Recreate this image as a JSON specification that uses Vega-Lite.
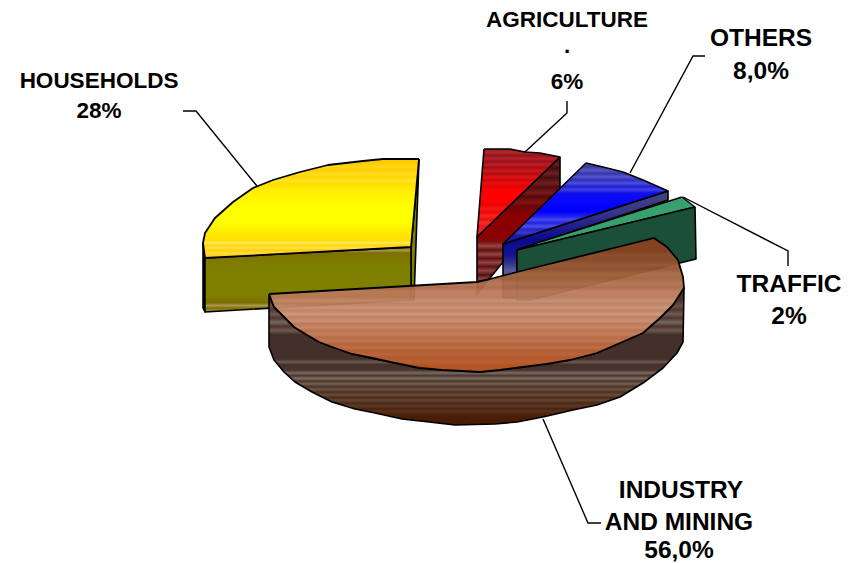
{
"$schema":"https://vega.github.io/schema/vega-lite/v6.json",
"width":856,"height":563,"padding":0,
"autosize":"none",
"background":"white",
"view":{"stroke":null},
"datasets":{
"outline":[
{"part":"yellowRight","i":0,"x":419,"y":159},{"part":"yellowRight","i":1,"x":411,"y":247},{"part":"yellowRight","i":2,"x":411,"y":300},{"part":"yellowRight","i":3,"x":414,"y":300},{"part":"yellowRight","i":4,"x":419,"y":159},
{"part":"yellowEnd","i":0,"x":203,"y":243},{"part":"yellowEnd","i":1,"x":205,"y":258},{"part":"yellowEnd","i":2,"x":205,"y":312},{"part":"yellowEnd","i":3,"x":203,"y":308},{"part":"yellowEnd","i":4,"x":203,"y":243},
{"part":"yellowFront","i":0,"x":205,"y":258},{"part":"yellowFront","i":1,"x":411,"y":247},{"part":"yellowFront","i":2,"x":411,"y":300},{"part":"yellowFront","i":3,"x":205,"y":312},{"part":"yellowFront","i":4,"x":205,"y":258},
{"part":"yellowTop","i":0,"x":419,"y":159},{"part":"yellowTop","i":1,"x":383,"y":159},{"part":"yellowTop","i":2,"x":363,"y":161},{"part":"yellowTop","i":3,"x":328,"y":165},{"part":"yellowTop","i":4,"x":300,"y":172},{"part":"yellowTop","i":5,"x":273,"y":180},{"part":"yellowTop","i":6,"x":253,"y":188},{"part":"yellowTop","i":7,"x":233,"y":202},{"part":"yellowTop","i":8,"x":215,"y":218},{"part":"yellowTop","i":9,"x":205,"y":233},{"part":"yellowTop","i":10,"x":203,"y":243},{"part":"yellowTop","i":11,"x":205,"y":258},{"part":"yellowTop","i":12,"x":411,"y":247},{"part":"yellowTop","i":13,"x":419,"y":159},
{"part":"redSide","i":0,"x":560,"y":157},{"part":"redSide","i":1,"x":560,"y":192},{"part":"redSide","i":2,"x":490,"y":278},{"part":"redSide","i":3,"x":477,"y":294},{"part":"redSide","i":4,"x":477,"y":237},{"part":"redSide","i":5,"x":560,"y":157},
{"part":"redTop","i":0,"x":484,"y":149},{"part":"redTop","i":1,"x":510,"y":149},{"part":"redTop","i":2,"x":525,"y":152},{"part":"redTop","i":3,"x":540,"y":153},{"part":"redTop","i":4,"x":560,"y":157},{"part":"redTop","i":5,"x":477,"y":237},{"part":"redTop","i":6,"x":484,"y":149},
{"part":"blueSide","i":0,"x":668,"y":191},{"part":"blueSide","i":1,"x":668,"y":200},{"part":"blueSide","i":2,"x":517,"y":250},{"part":"blueSide","i":3,"x":517,"y":298},{"part":"blueSide","i":4,"x":503,"y":298},{"part":"blueSide","i":5,"x":503,"y":244},{"part":"blueSide","i":6,"x":668,"y":191},
{"part":"blueTop","i":0,"x":586,"y":163},{"part":"blueTop","i":1,"x":603,"y":167},{"part":"blueTop","i":2,"x":623,"y":172},{"part":"blueTop","i":3,"x":643,"y":180},{"part":"blueTop","i":4,"x":668,"y":191},{"part":"blueTop","i":5,"x":503,"y":244},{"part":"blueTop","i":6,"x":586,"y":163},
{"part":"greenTop","i":0,"x":682,"y":197},{"part":"greenTop","i":1,"x":695,"y":207},{"part":"greenTop","i":2,"x":517,"y":250},{"part":"greenTop","i":3,"x":540,"y":242},{"part":"greenTop","i":4,"x":682,"y":197},
{"part":"greenSide","i":0,"x":695,"y":207},{"part":"greenSide","i":1,"x":696,"y":259},{"part":"greenSide","i":2,"x":530,"y":300},{"part":"greenSide","i":3,"x":517,"y":300},{"part":"greenSide","i":4,"x":517,"y":250},{"part":"greenSide","i":5,"x":695,"y":207},
{"part":"brownSide","i":0,"x":269,"y":294},{"part":"brownSide","i":1,"x":269,"y":347},{"part":"brownSide","i":2,"x":274,"y":360},{"part":"brownSide","i":3,"x":284,"y":372},{"part":"brownSide","i":4,"x":295,"y":382},{"part":"brownSide","i":5,"x":312,"y":392},{"part":"brownSide","i":6,"x":332,"y":402},{"part":"brownSide","i":7,"x":355,"y":409},{"part":"brownSide","i":8,"x":375,"y":413},{"part":"brownSide","i":9,"x":402,"y":419},{"part":"brownSide","i":10,"x":429,"y":422},{"part":"brownSide","i":11,"x":455,"y":425},{"part":"brownSide","i":12,"x":495,"y":424},{"part":"brownSide","i":13,"x":517,"y":422},{"part":"brownSide","i":14,"x":543,"y":417},{"part":"brownSide","i":15,"x":573,"y":410},{"part":"brownSide","i":16,"x":597,"y":405},{"part":"brownSide","i":17,"x":620,"y":397},{"part":"brownSide","i":18,"x":643,"y":383},{"part":"brownSide","i":19,"x":663,"y":368},{"part":"brownSide","i":20,"x":677,"y":353},{"part":"brownSide","i":21,"x":683,"y":342},{"part":"brownSide","i":22,"x":684,"y":288},{"part":"brownSide","i":24,"x":673,"y":305},{"part":"brownSide","i":25,"x":660,"y":318},{"part":"brownSide","i":26,"x":643,"y":333},{"part":"brownSide","i":27,"x":620,"y":343},{"part":"brownSide","i":28,"x":597,"y":353},{"part":"brownSide","i":29,"x":570,"y":360},{"part":"brownSide","i":30,"x":523,"y":367},{"part":"brownSide","i":31,"x":480,"y":372},{"part":"brownSide","i":32,"x":442,"y":370},{"part":"brownSide","i":33,"x":395,"y":363},{"part":"brownSide","i":34,"x":352,"y":354},{"part":"brownSide","i":35,"x":319,"y":342},{"part":"brownSide","i":36,"x":294,"y":327},{"part":"brownSide","i":37,"x":274,"y":307},{"part":"brownSide","i":38,"x":269,"y":294},
{"part":"brownTop","i":0,"x":269,"y":294},{"part":"brownTop","i":1,"x":477,"y":282},{"part":"brownTop","i":2,"x":490,"y":279},{"part":"brownTop","i":3,"x":517,"y":272},{"part":"brownTop","i":4,"x":654,"y":238},{"part":"brownTop","i":5,"x":667,"y":247},{"part":"brownTop","i":6,"x":678,"y":260},{"part":"brownTop","i":7,"x":683,"y":277},{"part":"brownTop","i":8,"x":684,"y":288},{"part":"brownTop","i":9,"x":673,"y":305},{"part":"brownTop","i":10,"x":660,"y":318},{"part":"brownTop","i":11,"x":643,"y":333},{"part":"brownTop","i":12,"x":620,"y":343},{"part":"brownTop","i":13,"x":597,"y":353},{"part":"brownTop","i":14,"x":570,"y":360},{"part":"brownTop","i":15,"x":547,"y":364},{"part":"brownTop","i":16,"x":523,"y":367},{"part":"brownTop","i":17,"x":500,"y":370},{"part":"brownTop","i":18,"x":480,"y":372},{"part":"brownTop","i":19,"x":462,"y":371},{"part":"brownTop","i":20,"x":442,"y":370},{"part":"brownTop","i":21,"x":419,"y":368},{"part":"brownTop","i":22,"x":395,"y":363},{"part":"brownTop","i":23,"x":372,"y":358},{"part":"brownTop","i":24,"x":352,"y":354},{"part":"brownTop","i":25,"x":332,"y":347},{"part":"brownTop","i":26,"x":319,"y":342},{"part":"brownTop","i":27,"x":307,"y":335},{"part":"brownTop","i":28,"x":294,"y":327},{"part":"brownTop","i":29,"x":282,"y":315},{"part":"brownTop","i":30,"x":274,"y":307},{"part":"brownTop","i":31,"x":269,"y":294}
],
"leaders":[
{"slice":"HOUSEHOLDS","i":0,"x":183,"y":111},{"slice":"HOUSEHOLDS","i":1,"x":196,"y":111},{"slice":"HOUSEHOLDS","i":2,"x":257,"y":186},
{"slice":"AGRICULTURE","i":0,"x":567,"y":101},{"slice":"AGRICULTURE","i":1,"x":567,"y":113},{"slice":"AGRICULTURE","i":2,"x":525,"y":152},
{"slice":"OTHERS","i":0,"x":705,"y":56},{"slice":"OTHERS","i":1,"x":693,"y":56},{"slice":"OTHERS","i":2,"x":630,"y":173},
{"slice":"TRAFFIC","i":0,"x":683,"y":197},{"slice":"TRAFFIC","i":1,"x":788,"y":251},{"slice":"TRAFFIC","i":2,"x":788,"y":266},
{"slice":"INDUSTRY AND MINING","i":0,"x":543,"y":419},{"slice":"INDUSTRY AND MINING","i":1,"x":588,"y":523},{"slice":"INDUSTRY AND MINING","i":2,"x":601,"y":523}
],
"labels":[
{"line":"HOUSEHOLDS","x":99,"y":81},{"line":"28%","x":99,"y":111},
{"line":"AGRICULTURE","x":567,"y":20},{"line":".","x":567,"y":46},{"line":"6%","x":567,"y":82},
{"line":"OTHERS","x":761,"y":39},{"line":"8,0%","x":761,"y":72},
{"line":"TRAFFIC","x":789,"y":285},{"line":"2%","x":789,"y":317},
{"line":"INDUSTRY","x":681,"y":491},{"line":"AND MINING","x":679,"y":523},{"line":"56,0%","x":679,"y":551}
]
},
"encoding":{
"x":{"field":"x","type":"quantitative","axis":null,"scale":{"domain":[0,856],"nice":false,"zero":false}},
"y":{"field":"y","type":"quantitative","axis":null,"scale":{"domain":[563,0],"nice":false,"zero":false}},
"order":{"field":"i","type":"quantitative"}
},
"layer":[
{"data":{"name":"outline"},"transform":[{"filter":"datum.part==='yellowRight'"}],
 "mark":{"type":"line","fill":"#808000","stroke":"black","strokeWidth":1.6,"strokeJoin":"round"}},
{"data":{"name":"outline"},"transform":[{"filter":"datum.part==='yellowEnd'"}],
 "mark":{"type":"line","fill":"#1a1a00","stroke":"black","strokeWidth":1.6,"strokeJoin":"round"}},
{"data":{"name":"outline"},"transform":[{"filter":"datum.part==='yellowFront'"}],
 "mark":{"type":"line","stroke":"black","strokeWidth":1.6,"strokeJoin":"round","fill":{"gradient":"linear","x1":0,"y1":0,"x2":0,"y2":1,"stops":[
  {"offset":0,"color":"#6b5c00"},{"offset":0.05,"color":"#a89a50"},{"offset":0.09,"color":"#7d7000"},{"offset":0.3,"color":"#808000"},{"offset":0.75,"color":"#808000"},{"offset":0.86,"color":"#7a6c00"},{"offset":0.9,"color":"#a89a50"},{"offset":0.94,"color":"#807000"},{"offset":1,"color":"#a89a50"}]}}},
{"data":{"name":"outline"},"transform":[{"filter":"datum.part==='yellowTop'"}],
 "mark":{"type":"line","stroke":"black","strokeWidth":1.8,"strokeJoin":"round","fill":{"gradient":"linear","x1":0,"y1":0,"x2":0,"y2":1,"stops":[
  {"offset":0,"color":"#ffc800"},{"offset":0.05,"color":"#ffcc00"},{"offset":0.08,"color":"#ffd818"},{"offset":0.11,"color":"#ffcc00"},{"offset":0.15,"color":"#ffdc20"},{"offset":0.18,"color":"#ffd400"},{"offset":0.22,"color":"#ffe428"},{"offset":0.25,"color":"#ffdc00"},{"offset":0.3,"color":"#ffea00"},{"offset":0.4,"color":"#fff800"},{"offset":0.5,"color":"#ffff00"},{"offset":0.64,"color":"#ffff00"},{"offset":0.72,"color":"#ffee00"},{"offset":0.78,"color":"#ffe400"},{"offset":0.82,"color":"#ffe000"},{"offset":0.85,"color":"#ffe860"},{"offset":0.87,"color":"#ffd600"},{"offset":0.9,"color":"#ffe050"},{"offset":0.92,"color":"#ffd000"},{"offset":0.95,"color":"#ffdc40"},{"offset":1,"color":"#ffc800"}]}}},
{"data":{"name":"outline"},"transform":[{"filter":"datum.part==='redSide'"}],
 "mark":{"type":"line","stroke":"black","strokeWidth":1.6,"strokeJoin":"round","fill":{"gradient":"linear","x1":0,"y1":0,"x2":0,"y2":1,"stops":[
  {"offset":0,"color":"#3f0a0a"},{"offset":0.05,"color":"#6a1e1e"},{"offset":0.08,"color":"#420c0c"},{"offset":0.12,"color":"#6d2020"},{"offset":0.15,"color":"#480e0e"},{"offset":0.19,"color":"#701e1e"},{"offset":0.22,"color":"#500c0c"},{"offset":0.26,"color":"#7a1a1a"},{"offset":0.29,"color":"#580808"},{"offset":0.33,"color":"#801414"},{"offset":0.36,"color":"#6a0505"},{"offset":0.42,"color":"#8a0000"},{"offset":0.58,"color":"#8a0000"},{"offset":0.62,"color":"#7a1010"},{"offset":0.65,"color":"#9a4545"},{"offset":0.68,"color":"#5f1010"},{"offset":0.71,"color":"#974545"},{"offset":0.74,"color":"#5a1010"},{"offset":0.77,"color":"#944545"},{"offset":0.8,"color":"#5a1212"},{"offset":0.83,"color":"#8f4444"},{"offset":0.86,"color":"#541010"},{"offset":0.89,"color":"#8a4444"},{"offset":0.92,"color":"#541818"},{"offset":1,"color":"#6a3030"}]}}},
{"data":{"name":"outline"},"transform":[{"filter":"datum.part==='redTop'"}],
 "mark":{"type":"line","stroke":"black","strokeWidth":1.6,"strokeJoin":"round","fill":{"gradient":"linear","x1":0,"y1":0,"x2":0,"y2":1,"stops":[
  {"offset":0,"color":"#a01a22"},{"offset":0.04,"color":"#b32a2a"},{"offset":0.07,"color":"#90151c"},{"offset":0.11,"color":"#b8202a"},{"offset":0.14,"color":"#96121a"},{"offset":0.18,"color":"#c61a20"},{"offset":0.21,"color":"#a01018"},{"offset":0.25,"color":"#d41518"},{"offset":0.28,"color":"#ac0e14"},{"offset":0.32,"color":"#e61010"},{"offset":0.35,"color":"#c00c10"},{"offset":0.39,"color":"#f80808"},{"offset":0.42,"color":"#d80808"},{"offset":0.46,"color":"#ff0000"},{"offset":0.6,"color":"#ff0000"},{"offset":0.64,"color":"#e80808"},{"offset":0.68,"color":"#ff1414"},{"offset":0.72,"color":"#e80c0c"},{"offset":0.76,"color":"#ff2020"},{"offset":0.8,"color":"#e81010"},{"offset":0.84,"color":"#ff2a2a"},{"offset":0.88,"color":"#e81414"},{"offset":0.92,"color":"#f02020"},{"offset":1,"color":"#e01818"}]}}},
{"data":{"name":"outline"},"transform":[{"filter":"datum.part==='blueSide'"}],
 "mark":{"type":"line","stroke":"black","strokeWidth":1.6,"strokeJoin":"round","fill":{"gradient":"linear","x1":0,"y1":0,"x2":0,"y2":1,"stops":[
  {"offset":0,"color":"#454580"},{"offset":0.2,"color":"#35358a"},{"offset":0.45,"color":"#0a0a90"},{"offset":0.6,"color":"#141490"},{"offset":0.68,"color":"#35358a"},{"offset":0.74,"color":"#5a5aa0"},{"offset":1,"color":"#45458a"}]}}},
{"data":{"name":"outline"},"transform":[{"filter":"datum.part==='blueTop'"}],
 "mark":{"type":"line","stroke":"black","strokeWidth":1.6,"strokeJoin":"round","fill":{"gradient":"linear","x1":0,"y1":0,"x2":0,"y2":1,"stops":[
  {"offset":0,"color":"#4a4aa5"},{"offset":0.05,"color":"#3a3aa8"},{"offset":0.09,"color":"#5a5ab8"},{"offset":0.13,"color":"#3535b5"},{"offset":0.17,"color":"#5656c4"},{"offset":0.21,"color":"#2e2ec8"},{"offset":0.25,"color":"#4e4ed4"},{"offset":0.29,"color":"#2222d8"},{"offset":0.33,"color":"#4040e0"},{"offset":0.37,"color":"#1010ec"},{"offset":0.42,"color":"#0a0af8"},{"offset":0.6,"color":"#0000ff"},{"offset":0.66,"color":"#2020f0"},{"offset":0.7,"color":"#4848f0"},{"offset":0.74,"color":"#2222e0"},{"offset":0.78,"color":"#4e4ee8"},{"offset":0.82,"color":"#2424cc"},{"offset":0.86,"color":"#3a3ac8"},{"offset":0.9,"color":"#1a1ab0"},{"offset":1,"color":"#1818a0"}]}}},
{"data":{"name":"outline"},"transform":[{"filter":"datum.part==='greenTop'"}],
 "mark":{"type":"line","fill":"#37a06e","stroke":"black","strokeWidth":1.4,"strokeJoin":"round"}},
{"data":{"name":"outline"},"transform":[{"filter":"datum.part==='greenSide'"}],
 "mark":{"type":"line","fill":"#1c4f38","stroke":"black","strokeWidth":1.6,"strokeJoin":"round"}},
{"data":{"name":"outline"},"transform":[{"filter":"datum.part==='brownSide'"}],
 "mark":{"type":"line","stroke":"black","strokeWidth":1.6,"strokeJoin":"round","fill":{"gradient":"linear","x1":0,"y1":0,"x2":0,"y2":1,"stops":[
  {"offset":0,"color":"#4a2f28"},{"offset":0.09,"color":"#4a3028"},{"offset":0.13,"color":"#6a5048"},{"offset":0.16,"color":"#4f372e"},{"offset":0.19,"color":"#6f5a50"},{"offset":0.22,"color":"#4d352d"},{"offset":0.25,"color":"#7a665d"},{"offset":0.28,"color":"#4d352d"},{"offset":0.31,"color":"#6d584e"},{"offset":0.34,"color":"#43302b"},{"offset":0.52,"color":"#43302b"},{"offset":0.54,"color":"#6e5a50"},{"offset":0.56,"color":"#43302b"},{"offset":0.6,"color":"#4a362e"},{"offset":0.62,"color":"#7a6a5f"},{"offset":0.64,"color":"#4c372e"},{"offset":0.66,"color":"#7b6c60"},{"offset":0.68,"color":"#4d372c"},{"offset":0.7,"color":"#74604f"},{"offset":0.72,"color":"#4c3426"},{"offset":0.74,"color":"#6e5544"},{"offset":0.76,"color":"#4a3022"},{"offset":0.78,"color":"#6a4c3a"},{"offset":0.8,"color":"#4b2c1c"},{"offset":0.82,"color":"#664432"},{"offset":0.84,"color":"#4a2818"},{"offset":0.86,"color":"#5e3a26"},{"offset":0.88,"color":"#4a2412"},{"offset":0.9,"color":"#5a3018"},{"offset":0.93,"color":"#4a1e08"},{"offset":1,"color":"#481a02"}]}}},
{"data":{"name":"outline"},"transform":[{"filter":"datum.part==='brownTop'"}],
 "mark":{"type":"line","stroke":"black","strokeWidth":1.8,"strokeJoin":"round","fillOpacity":0.94,"fill":{"gradient":"linear","x1":0,"y1":0,"x2":0,"y2":1,"stops":[
  {"offset":0,"color":"#853c18"},{"offset":0.06,"color":"#8c4420"},{"offset":0.09,"color":"#86401c"},{"offset":0.13,"color":"#935030"},{"offset":0.16,"color":"#8d4a28"},{"offset":0.2,"color":"#9c5a38"},{"offset":0.23,"color":"#96522f"},{"offset":0.27,"color":"#a8663f"},{"offset":0.3,"color":"#a15f3a"},{"offset":0.34,"color":"#b27050"},{"offset":0.37,"color":"#aa6844"},{"offset":0.4,"color":"#bc7a5a"},{"offset":0.44,"color":"#b87658"},{"offset":0.47,"color":"#c58a6e"},{"offset":0.49,"color":"#ba7a5c"},{"offset":0.52,"color":"#c78e72"},{"offset":0.54,"color":"#bb7b5c"},{"offset":0.57,"color":"#ca9278"},{"offset":0.59,"color":"#b9785a"},{"offset":0.62,"color":"#c88a6c"},{"offset":0.64,"color":"#b87050"},{"offset":0.67,"color":"#c4805f"},{"offset":0.69,"color":"#b56a46"},{"offset":0.72,"color":"#c07850"},{"offset":0.74,"color":"#b2623a"},{"offset":0.77,"color":"#bc7048"},{"offset":0.79,"color":"#b05830"},{"offset":0.82,"color":"#b8663c"},{"offset":0.84,"color":"#ae5228"},{"offset":0.87,"color":"#b45c30"},{"offset":0.89,"color":"#ae4e20"},{"offset":0.92,"color":"#b45626"},{"offset":0.95,"color":"#ae4a18"},{"offset":1,"color":"#b44a14"}]}}},
{"data":{"name":"leaders"},
 "mark":{"type":"line","stroke":"black","strokeWidth":1.4},
 "encoding":{"detail":{"field":"slice"}}},
{"data":{"name":"labels"},
 "mark":{"type":"text","font":"Liberation Sans","fontWeight":"bold","align":"center","baseline":"middle","color":"black"},
 "encoding":{"text":{"field":"line"},"order":{"value":null},
  "size":{"condition":{"test":"datum.x<600 && datum.y<120","value":22.5},"value":24.5}}}
]
}
